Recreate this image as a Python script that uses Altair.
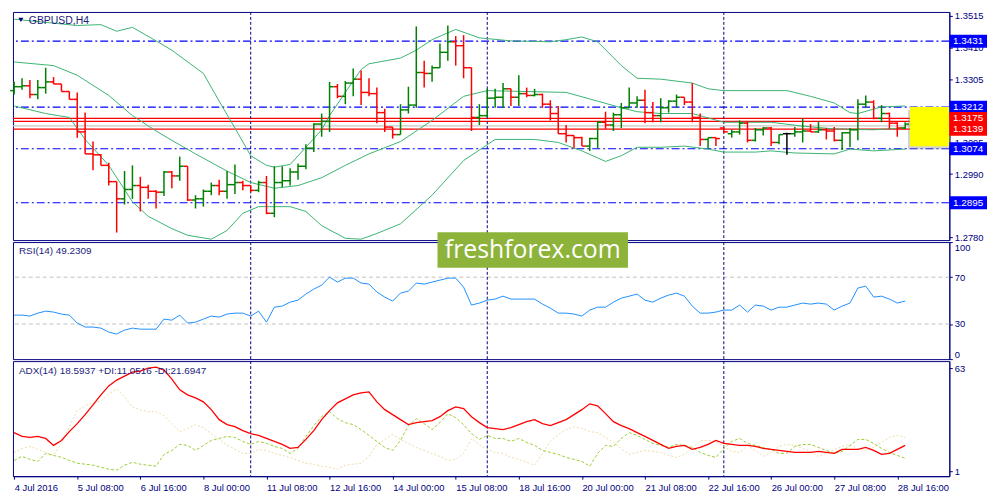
import json

import altair as alt
import pandas as pd

# GBPUSD H4, 4 Jul - 28 Jul 2016
OPEN = [1.3267, 1.3280, 1.3283, 1.3254, 1.3277, 1.3296, 1.3289, 1.3264, 1.3238, 1.3130,
        1.3057, 1.3054, 1.3019, 1.2965, 1.2908, 1.2939, 1.2952, 1.2946, 1.2933, 1.2930,
        1.2997, 1.2984, 1.3016, 1.2904, 1.2908, 1.2933, 1.2952, 1.2933, 1.2955, 1.2962,
        1.2952, 1.2936, 1.2962, 1.2860, 1.2962, 1.2968, 1.2997, 1.3016, 1.3076, 1.3156,
        1.3165, 1.3280, 1.3248, 1.3292, 1.3305, 1.3261, 1.3257, 1.3194, 1.3146, 1.3121,
        1.3203, 1.3219, 1.3327, 1.3324, 1.3343, 1.3394, 1.3429, 1.3416, 1.3343, 1.3178,
        1.3184, 1.3242, 1.3245, 1.3273, 1.3245, 1.3257, 1.3251, 1.3254, 1.3222, 1.3191,
        1.3124, 1.3118, 1.3111, 1.3083, 1.3108, 1.3162, 1.3153, 1.3187, 1.3210, 1.3226,
        1.3235, 1.3194, 1.3184, 1.3210, 1.3232, 1.3245, 1.3229, 1.3178, 1.3105, 1.3111,
        1.3143, 1.3124, 1.3130, 1.3159, 1.3102, 1.3137, 1.3143, 1.3095, 1.3124, 1.3124,
        1.3130, 1.3133, 1.3130, 1.3137, 1.3133, 1.3102, 1.3127, 1.3137, 1.3222, 1.3229,
        1.3175, 1.3191, 1.3159, 1.3143]
HIGH = [1.3296, 1.3308, 1.3302, 1.3302, 1.3343, 1.3312, 1.3289, 1.3264, 1.3261, 1.3194,
        1.3098, 1.3057, 1.3028, 1.2965, 1.3000, 1.3019, 1.2981, 1.2955, 1.2936, 1.3000,
        1.3000, 1.3048, 1.3016, 1.2920, 1.2939, 1.2962, 1.2971, 1.3000, 1.3022, 1.2968,
        1.2952, 1.2968, 1.2984, 1.3016, 1.3016, 1.3009, 1.3025, 1.3089, 1.3159, 1.3191,
        1.3296, 1.3289, 1.3299, 1.3340, 1.3334, 1.3308, 1.3277, 1.3207, 1.3146, 1.3222,
        1.3280, 1.3480, 1.3366, 1.3350, 1.3423, 1.3483, 1.3448, 1.3451, 1.3343, 1.3222,
        1.3273, 1.3273, 1.3292, 1.3273, 1.3318, 1.3277, 1.3273, 1.3257, 1.3235, 1.3216,
        1.3153, 1.3118, 1.3114, 1.3111, 1.3165, 1.3197, 1.3194, 1.3226, 1.3277, 1.3248,
        1.3270, 1.3229, 1.3242, 1.3235, 1.3254, 1.3245, 1.3292, 1.3191, 1.3111, 1.3111,
        1.3146, 1.3137, 1.3168, 1.3165, 1.3143, 1.3146, 1.3146, 1.3121, 1.3127, 1.3146,
        1.3175, 1.3156, 1.3165, 1.3143, 1.3146, 1.3130, 1.3143, 1.3238, 1.3251, 1.3235,
        1.3219, 1.3194, 1.3162, 1.3162]
LOW = [1.3254, 1.3270, 1.3242, 1.3238, 1.3257, 1.3289, 1.3264, 1.3238, 1.3111, 1.3057,
       1.3003, 1.3019, 1.2952, 1.2796, 1.2889, 1.2908, 1.2866, 1.2908, 1.2876, 1.2917,
       1.2943, 1.2968, 1.2901, 1.2876, 1.2882, 1.2920, 1.2920, 1.2908, 1.2924, 1.2936,
       1.2930, 1.2930, 1.2857, 1.2847, 1.2946, 1.2952, 1.2971, 1.3006, 1.3063, 1.3114,
       1.3130, 1.3242, 1.3222, 1.3248, 1.3219, 1.3248, 1.3159, 1.3130, 1.3108, 1.3121,
       1.3191, 1.3210, 1.3277, 1.3296, 1.3343, 1.3366, 1.3350, 1.3308, 1.3133, 1.3153,
       1.3178, 1.3210, 1.3210, 1.3216, 1.3216, 1.3245, 1.3248, 1.3210, 1.3168, 1.3124,
       1.3095, 1.3076, 1.3083, 1.3067, 1.3076, 1.3140, 1.3133, 1.3143, 1.3210, 1.3210,
       1.3159, 1.3162, 1.3162, 1.3194, 1.3210, 1.3219, 1.3162, 1.3083, 1.3076, 1.3083,
       1.3127, 1.3111, 1.3121, 1.3095, 1.3098, 1.3118, 1.3083, 1.3089, 1.3054, 1.3114,
       1.3095, 1.3130, 1.3127, 1.3105, 1.3098, 1.3070, 1.3079, 1.3102, 1.3210, 1.3172,
       1.3162, 1.3140, 1.3114, 1.3140]
CLOSE = [1.3280, 1.3283, 1.3254, 1.3277, 1.3296, 1.3289, 1.3264, 1.3238, 1.3130, 1.3057,
         1.3054, 1.3019, 1.2965, 1.2908, 1.2939, 1.2952, 1.2946, 1.2933, 1.2930, 1.2997,
         1.2984, 1.3016, 1.2904, 1.2908, 1.2933, 1.2952, 1.2933, 1.2955, 1.2962, 1.2952,
         1.2936, 1.2962, 1.2860, 1.2962, 1.2968, 1.2997, 1.3016, 1.3076, 1.3156, 1.3165,
         1.3280, 1.3248, 1.3292, 1.3305, 1.3261, 1.3257, 1.3194, 1.3146, 1.3121, 1.3203,
         1.3219, 1.3327, 1.3324, 1.3343, 1.3394, 1.3429, 1.3416, 1.3343, 1.3178, 1.3184,
         1.3242, 1.3245, 1.3273, 1.3245, 1.3257, 1.3251, 1.3254, 1.3222, 1.3191, 1.3124,
         1.3118, 1.3111, 1.3083, 1.3108, 1.3162, 1.3153, 1.3187, 1.3210, 1.3226, 1.3235,
         1.3194, 1.3184, 1.3210, 1.3232, 1.3245, 1.3229, 1.3178, 1.3105, 1.3111, 1.3108,
         1.3130, 1.3130, 1.3159, 1.3102, 1.3137, 1.3143, 1.3095, 1.3121, 1.3124, 1.3130,
         1.3133, 1.3130, 1.3137, 1.3133, 1.3102, 1.3127, 1.3137, 1.3222, 1.3229, 1.3175,
         1.3191, 1.3159, 1.3143, 1.3156]

# Bollinger bands, read at these bar positions
BB_UP_AT = [0, 8, 11, 13, 15, 18, 20, 24, 26, 28, 30, 32, 33, 35, 37, 39, 40, 42, 44, 45,
            49, 51, 53, 56, 59, 63, 68, 70, 72, 74, 77, 79, 82, 86, 88, 90, 98, 101, 104,
            106, 107, 110, 113]
BB_UP = [1.3504, 1.3483, 1.3486, 1.3464, 1.3477, 1.3432, 1.3401, 1.3324, 1.3232, 1.3143,
         1.3051, 1.3019, 1.3013, 1.3022, 1.3079, 1.3137, 1.3184, 1.3261, 1.3337, 1.3356,
         1.3375, 1.3401, 1.3436, 1.3470, 1.3442, 1.3432, 1.3429, 1.3436, 1.3445, 1.3429,
         1.3350, 1.3308, 1.3305, 1.3292, 1.3273, 1.3267, 1.3267, 1.3248, 1.3226, 1.3194,
         1.3191, 1.3213, 1.3216]
BB_MID_AT = [0, 5, 8, 12, 15, 18, 20, 23, 27, 30, 33, 36, 39, 42, 45, 49, 53, 57, 60, 70,
             74, 77, 79, 82, 86, 90, 96, 100, 104, 109, 113]
BB_MID = [1.3362, 1.3350, 1.3318, 1.3251, 1.3184, 1.3133, 1.3102, 1.3057, 1.3000, 1.2962,
          1.2943, 1.2952, 1.2978, 1.3019, 1.3057, 1.3098, 1.3168, 1.3248, 1.3267, 1.3261,
          1.3232, 1.3210, 1.3197, 1.3191, 1.3191, 1.3162, 1.3162, 1.3149, 1.3140, 1.3137,
          1.3143]
BB_LOW_AT = [0, 4, 7, 9, 12, 15, 17, 20, 22, 25, 27, 29, 31, 35, 37, 39, 42, 44, 46, 49,
             53, 57, 61, 66, 69, 72, 75, 77, 79, 82, 85, 88, 90, 94, 96, 99, 104, 106, 109,
             113]
BB_LOW = [1.3216, 1.3191, 1.3178, 1.3105, 1.3019, 1.2898, 1.2850, 1.2809, 1.2787, 1.2774,
          1.2803, 1.2860, 1.2882, 1.2882, 1.2866, 1.2819, 1.2777, 1.2774, 1.2793, 1.2825,
          1.2920, 1.3035, 1.3105, 1.3105, 1.3095, 1.3067, 1.3032, 1.3051, 1.3079, 1.3079,
          1.3083, 1.3073, 1.3063, 1.3063, 1.3067, 1.3060, 1.3057, 1.3073, 1.3067, 1.3073]

RSI = [37.6, 37.6, 36.8, 39.3, 41.0, 40.2, 38.5, 37.6, 30.8, 27.4,
       27.4, 26.5, 23.1, 21.4, 24.8, 26.5, 25.6, 25.6, 25.6, 34.2,
       33.3, 37.6, 30.8, 31.6, 34.2, 36.8, 35.9, 38.5, 39.3, 39.3,
       36.8, 41.0, 31.6, 44.4, 45.3, 48.7, 50.4, 55.6, 59.8, 63.2,
       70.1, 65.8, 69.2, 69.2, 65.0, 64.1, 57.3, 53.0, 49.6, 56.4,
       58.1, 65.0, 64.1, 65.8, 67.5, 69.2, 69.2, 61.5, 46.2, 47.9,
       50.4, 51.3, 53.8, 51.3, 51.3, 51.3, 51.3, 47.0, 43.6, 39.3,
       39.3, 38.5, 36.8, 41.9, 44.4, 44.4, 48.7, 52.1, 53.8, 55.6,
       50.4, 48.7, 52.1, 54.7, 56.4, 53.8, 45.3, 39.3, 39.3, 40.2,
       41.9, 41.9, 46.2, 40.2, 46.2, 45.3, 41.9, 44.4, 44.4, 46.2,
       47.9, 47.0, 47.9, 47.0, 41.9, 45.3, 47.9, 60.7, 62.4, 53.0,
       53.8, 51.3, 47.9, 49.6]

ADX = [24.2, 21.9, 21.3, 21.9, 20.7, 16.5, 19.5, 24.8, 29.6, 35.0,
       40.9, 46.9, 52.3, 55.8, 58.2, 60.6, 61.2, 63.0, 63.6, 61.8,
       56.4, 49.9, 46.9, 45.1, 42.7, 38.0, 32.0, 29.0, 27.8, 25.4,
       23.6, 22.5, 20.7, 18.9, 17.1, 14.7, 15.3, 20.1, 25.4, 32.0,
       37.4, 42.1, 44.5, 46.9, 48.1, 48.7, 42.7, 38.0, 35.0, 32.0,
       29.0, 30.2, 30.8, 31.4, 33.8, 37.4, 39.7, 38.6, 33.8, 30.2,
       27.2, 26.6, 26.0, 27.2, 29.0, 30.8, 32.0, 29.6, 28.4, 30.2,
       32.0, 35.0, 38.0, 41.5, 40.3, 35.6, 30.8, 28.4, 26.6, 24.2,
       21.9, 19.5, 17.1, 14.7, 15.9, 16.5, 14.1, 15.3, 17.1, 19.5,
       17.7, 17.1, 16.5, 16.5, 15.9, 14.7, 14.1, 13.5, 12.9, 12.3,
       12.3, 12.3, 12.9, 12.3, 11.7, 14.1, 14.1, 14.1, 15.3, 13.5,
       11.1, 11.7, 14.1, 16.5]
PLUS_DI = [7.5, 9.9, 8.1, 6.9, 11.7, 10.5, 9.3, 7.5, 5.8, 5.2,
           4.6, 3.4, 2.2, 1.6, 4.6, 6.4, 5.2, 4.6, 4.0, 11.1,
           13.5, 17.1, 16.5, 13.5, 16.5, 19.5, 20.7, 21.9, 21.3, 18.9,
           17.1, 18.9, 17.7, 15.9, 14.7, 11.7, 14.7, 21.9, 28.4, 33.8,
           36.8, 32.6, 30.2, 29.0, 26.0, 22.5, 18.9, 15.3, 13.5, 19.5,
           28.4, 32.6, 29.6, 26.0, 30.2, 35.6, 33.2, 29.0, 23.6, 20.1,
           22.5, 20.7, 20.7, 18.9, 20.7, 18.3, 16.5, 13.5, 12.3, 11.1,
           9.3, 8.1, 6.9, 4.0, 11.7, 16.5, 15.9, 20.7, 24.2, 22.5,
           20.1, 17.7, 16.5, 15.3, 17.1, 16.5, 15.3, 12.3, 10.5, 9.3,
           14.7, 18.9, 20.7, 17.7, 16.5, 15.3, 14.1, 11.7, 11.7, 15.9,
           17.1, 17.1, 15.3, 13.5, 11.7, 12.9, 16.5, 20.1, 20.1, 17.7,
           14.7, 12.3, 10.5, 8.7]
MINUS_DI = [12.3, 14.7, 15.9, 14.1, 12.3, 10.5, 17.7, 27.8, 37.4, 40.3,
            42.1, 43.3, 47.5, 50.5, 45.7, 39.7, 38.0, 36.8, 36.8, 34.4,
            29.6, 24.8, 26.6, 29.0, 27.2, 23.6, 20.1, 16.5, 14.1, 11.7,
            11.7, 14.1, 13.5, 11.7, 10.5, 9.3, 7.5, 5.8, 5.2, 4.0,
            3.4, 2.2, 4.6, 5.2, 5.8, 9.9, 17.1, 20.1, 23.0, 20.1,
            17.7, 15.3, 13.5, 11.7, 9.9, 7.5, 8.1, 11.7, 20.7, 17.1,
            14.1, 12.3, 11.7, 9.3, 8.1, 6.4, 4.6, 11.7, 18.9, 23.0,
            26.0, 27.8, 26.6, 24.8, 24.2, 21.3, 18.3, 14.7, 11.1, 12.3,
            13.5, 12.9, 12.3, 10.5, 9.3, 11.1, 14.7, 19.5, 19.5, 18.9,
            15.9, 12.9, 12.3, 16.5, 13.5, 9.9, 12.3, 15.9, 17.1, 16.5,
            14.7, 12.9, 9.9, 11.7, 14.1, 15.9, 17.1, 14.1, 13.5, 15.3,
            18.3, 21.3, 22.5, 21.3]

TIME_LABELS = ['4 Jul 2016', '5 Jul 08:00', '6 Jul 16:00', '8 Jul 00:00', '11 Jul 08:00',
               '12 Jul 16:00', '14 Jul 00:00', '15 Jul 08:00', '18 Jul 16:00', '20 Jul 00:00',
               '21 Jul 08:00', '22 Jul 16:00', '26 Jul 00:00', '27 Jul 08:00', '28 Jul 16:00']
PRICE_TICKS = [1.2780, 1.2885, 1.2990, 1.3095, 1.3200, 1.3305, 1.3410, 1.3515]
BLUE_LEVELS = [1.3431, 1.3212, 1.3074, 1.2895]
RED_LEVELS = [1.3175, 1.3165, 1.3139]
RED_TAGS = [1.3175, 1.3139]
BID_LEVEL = [1.3150]
SESSION_BARS = [30, 60, 90]
ZONE_START = [113.6]
ZONE_TOP = [1.3213]
ZONE_BOTTOM = [1.3082]
RSI_LEVELS = [30, 70]

NAVY = '#000080'
FONT = 'Liberation Sans'
W = 944
H_MAIN, H_RSI, H_ADX = 230, 118, 116
BOX_PATH = 'M-2.92,-1L2.92,-1L2.92,1L-2.92,1Z'

X_SCALE = alt.Scale(domain=[-0.15, 118.6], nice=False, zero=False)
PRICE_SCALE = alt.Scale(domain=[1.2771, 1.3528], nice=False, zero=False)
PRICE_AXIS = alt.Axis(orient='right', values=PRICE_TICKS, format='.4f', title=None)
TIME_AXIS = alt.Axis(orient='bottom', values=list(range(0, 113, 8)),
                     labelExpr=json.dumps(TIME_LABELS) + '[round(datum.value / 8)]',
                     labelAlign='left', labelPadding=3, title=None)
DIR_SCALE = alt.Scale(domain=['up', 'down', 'flat'], range=['#008000', '#FF0000', '#000000'])


def xq(field='i', axis=None):
    return alt.X(f'{field}:Q', scale=X_SCALE, axis=axis, title=None)


def py(field):
    return alt.Y(f'{field}:Q', scale=PRICE_SCALE, axis=PRICE_AXIS, title=None)


def one(text):
    return pd.DataFrame({'t': [text]})


def label(text, y):
    return alt.Chart(one(text)).mark_text(
        align='left', baseline='middle', font=FONT, fontSize=10, color='#1C1C7C'
    ).encode(x=alt.value(6), y=alt.value(y), text='t:N')


bars = pd.DataFrame({'i': range(len(OPEN)), 'o': OPEN, 'h': HIGH, 'l': LOW, 'c': CLOSE})
bars['dir'] = ['up' if c > o else 'down' if c < o else 'flat' for o, c in zip(OPEN, CLOSE)]
bands = pd.concat([
    pd.DataFrame({'i': BB_UP_AT, 'v': BB_UP, 'band': 'upper'}),
    pd.DataFrame({'i': BB_MID_AT, 'v': BB_MID, 'band': 'middle'}),
    pd.DataFrame({'i': BB_LOW_AT, 'v': BB_LOW, 'band': 'lower'}),
])
sessions = pd.DataFrame({'i': SESSION_BARS})
bar_color = alt.Color('dir:N', scale=DIR_SCALE, legend=None)

# ---- price panel ----
blue_lines = alt.Chart(pd.DataFrame({'p': BLUE_LEVELS})).mark_rule(
    color='#0000FF', strokeDash=[8, 3, 2, 3], strokeWidth=1.2).encode(y=py('p'))
red_lines = alt.Chart(pd.DataFrame({'p': RED_LEVELS})).mark_rule(
    color='#FF0000', strokeWidth=1.2).encode(y=py('p'))
bid_line = alt.Chart(pd.DataFrame({'p': BID_LEVEL})).mark_rule(
    color='#C8C8C8', strokeWidth=1.2).encode(y=py('p'))
vlines_main = alt.Chart(sessions).mark_rule(color=NAVY, strokeDash=[3, 2]).encode(x=xq())
band_lines = alt.Chart(bands).mark_line(color='#3CB371', strokeWidth=1, clip=True).encode(
    x=xq(), y=py('v'), detail='band:N')
wicks = alt.Chart(bars).mark_rule(strokeWidth=1.5).encode(
    x=xq(), y=py('l'), y2='h', color=bar_color)
opens = alt.Chart(bars).mark_rule(strokeWidth=1.5, x2Offset=-4).encode(
    x=xq(), x2='i', y=py('o'), color=bar_color)
closes = alt.Chart(bars).mark_rule(strokeWidth=1.5, x2Offset=4).encode(
    x=xq(), x2='i', y=py('c'), color=bar_color)

zone_df = pd.DataFrame({'x': ZONE_START, 'top': ZONE_TOP, 'bot': ZONE_BOTTOM})
zone_shadow = alt.Chart(zone_df).mark_rect(
    color='#808080', opacity=0.35, yOffset=3, y2Offset=3, xOffset=-2).encode(
    x=xq('x'), x2=alt.value(W), y=py('top'), y2='bot')
zone = alt.Chart(zone_df).mark_rect(color='#FFFF00').encode(
    x=xq('x'), x2=alt.value(W), y=py('top'), y2='bot')

blue_tags = alt.Chart(pd.DataFrame({'p': BLUE_LEVELS})).mark_point(
    shape=BOX_PATH, filled=True, size=169, color='#0000FF', opacity=1).encode(
    x=alt.value(W + 19), y=py('p'))
red_tags = alt.Chart(pd.DataFrame({'p': RED_TAGS})).mark_point(
    shape=BOX_PATH, filled=True, size=169, color='#FF0000', opacity=1).encode(
    x=alt.value(W + 19), y=py('p'))
tag_text = alt.Chart(pd.DataFrame({'p': BLUE_LEVELS + RED_TAGS})).mark_text(
    color='white', font=FONT, fontSize=10, align='center', baseline='middle').encode(
    x=alt.value(W + 19), y=py('p'), text=alt.Text('p:Q', format='.4f'))

arrow = alt.Chart(one('')).mark_point(
    shape='triangle-down', filled=True, size=26, color=NAVY, opacity=1).encode(
    x=alt.value(8), y=alt.value(8))
main_title = alt.Chart(one('GBPUSD,H4')).mark_text(
    align='left', baseline='middle', font=FONT, fontSize=10.5, color='#1C1C7C').encode(
    x=alt.value(16), y=alt.value(9), text='t:N')

main = alt.layer(
    blue_lines, red_lines, bid_line, vlines_main, band_lines, wicks, opens, closes,
    zone_shadow, zone, blue_tags, red_tags, tag_text, arrow, main_title
).properties(width=W, height=H_MAIN)

# ---- RSI panel ----
rsi_df = pd.DataFrame({'i': range(len(RSI)), 'v': RSI})
RSI_Y = dict(scale=alt.Scale(domain=[0, 100], nice=False),
             axis=alt.Axis(orient='right', values=[0, 30, 70, 100], labelFlush=True, title=None),
             title=None)
rsi_levels = alt.Chart(pd.DataFrame({'v': RSI_LEVELS})).mark_rule(
    color='#C0C0C0', strokeDash=[4, 3]).encode(y=alt.Y('v:Q', **RSI_Y))
vlines_rsi = alt.Chart(sessions).mark_rule(color=NAVY, strokeDash=[3, 2]).encode(x=xq())
rsi_line = alt.Chart(rsi_df).mark_line(color='#1E90FF', strokeWidth=1).encode(
    x=xq(), y=alt.Y('v:Q', **RSI_Y))
brand_box = alt.Chart(one('')).mark_rect(color='#8DB33A').encode(
    x=alt.value(428), x2=alt.value(620), y=alt.value(-10), y2=alt.value(26))
brand_text = alt.Chart(one('freshforex.com')).mark_text(
    color='white', font='Open Sans', fontSize=25, align='center', baseline='middle').encode(
    x=alt.value(524), y=alt.value(8), text='t:N')

rsi = alt.layer(
    rsi_levels, vlines_rsi, rsi_line, label('RSI(14) 49.2309', 9), brand_box, brand_text
).properties(width=W, height=H_RSI)

# ---- ADX panel ----
adx_df = pd.DataFrame({'i': range(len(ADX)), 'adx': ADX, 'pdi': PLUS_DI, 'mdi': MINUS_DI})
ADX_Y = dict(scale=alt.Scale(domain=[-2, 67.2], nice=False, zero=False),
             axis=alt.Axis(orient='right', values=[1, 63], title=None), title=None)
vlines_adx = alt.Chart(sessions).mark_rule(color=NAVY, strokeDash=[3, 2]).encode(
    x=xq(axis=TIME_AXIS))
mdi_line = alt.Chart(adx_df).mark_line(color='#F0D9A8', strokeWidth=1, strokeDash=[2, 2]).encode(
    x=xq(axis=TIME_AXIS), y=alt.Y('mdi:Q', **ADX_Y))
pdi_line = alt.Chart(adx_df).mark_line(color='#9ACD32', strokeWidth=1, strokeDash=[3, 2]).encode(
    x=xq(axis=TIME_AXIS), y=alt.Y('pdi:Q', **ADX_Y))
adx_line = alt.Chart(adx_df).mark_line(color='#FF0000', strokeWidth=1.3).encode(
    x=xq(axis=TIME_AXIS), y=alt.Y('adx:Q', **ADX_Y))

adx = alt.layer(
    vlines_adx, mdi_line, pdi_line, adx_line,
    label('ADX(14) 18.5937 +DI:11.0516 -DI:21.6947', 10)
).properties(width=W, height=H_ADX)

chart = alt.vconcat(main, rsi, adx, spacing=2, bounds='flush').configure_view(
    stroke=NAVY, strokeWidth=1
).configure_axis(
    labelFont=FONT, labelFontSize=9.5, labelColor=NAVY, domainColor=NAVY,
    tickColor=NAVY, tickSize=3, grid=False, labelPadding=2
).properties(padding={'left': 0, 'top': 0, 'right': 4, 'bottom': 2})

chart.save('out.html', embed_options={'renderer': 'svg', 'actions': False})
